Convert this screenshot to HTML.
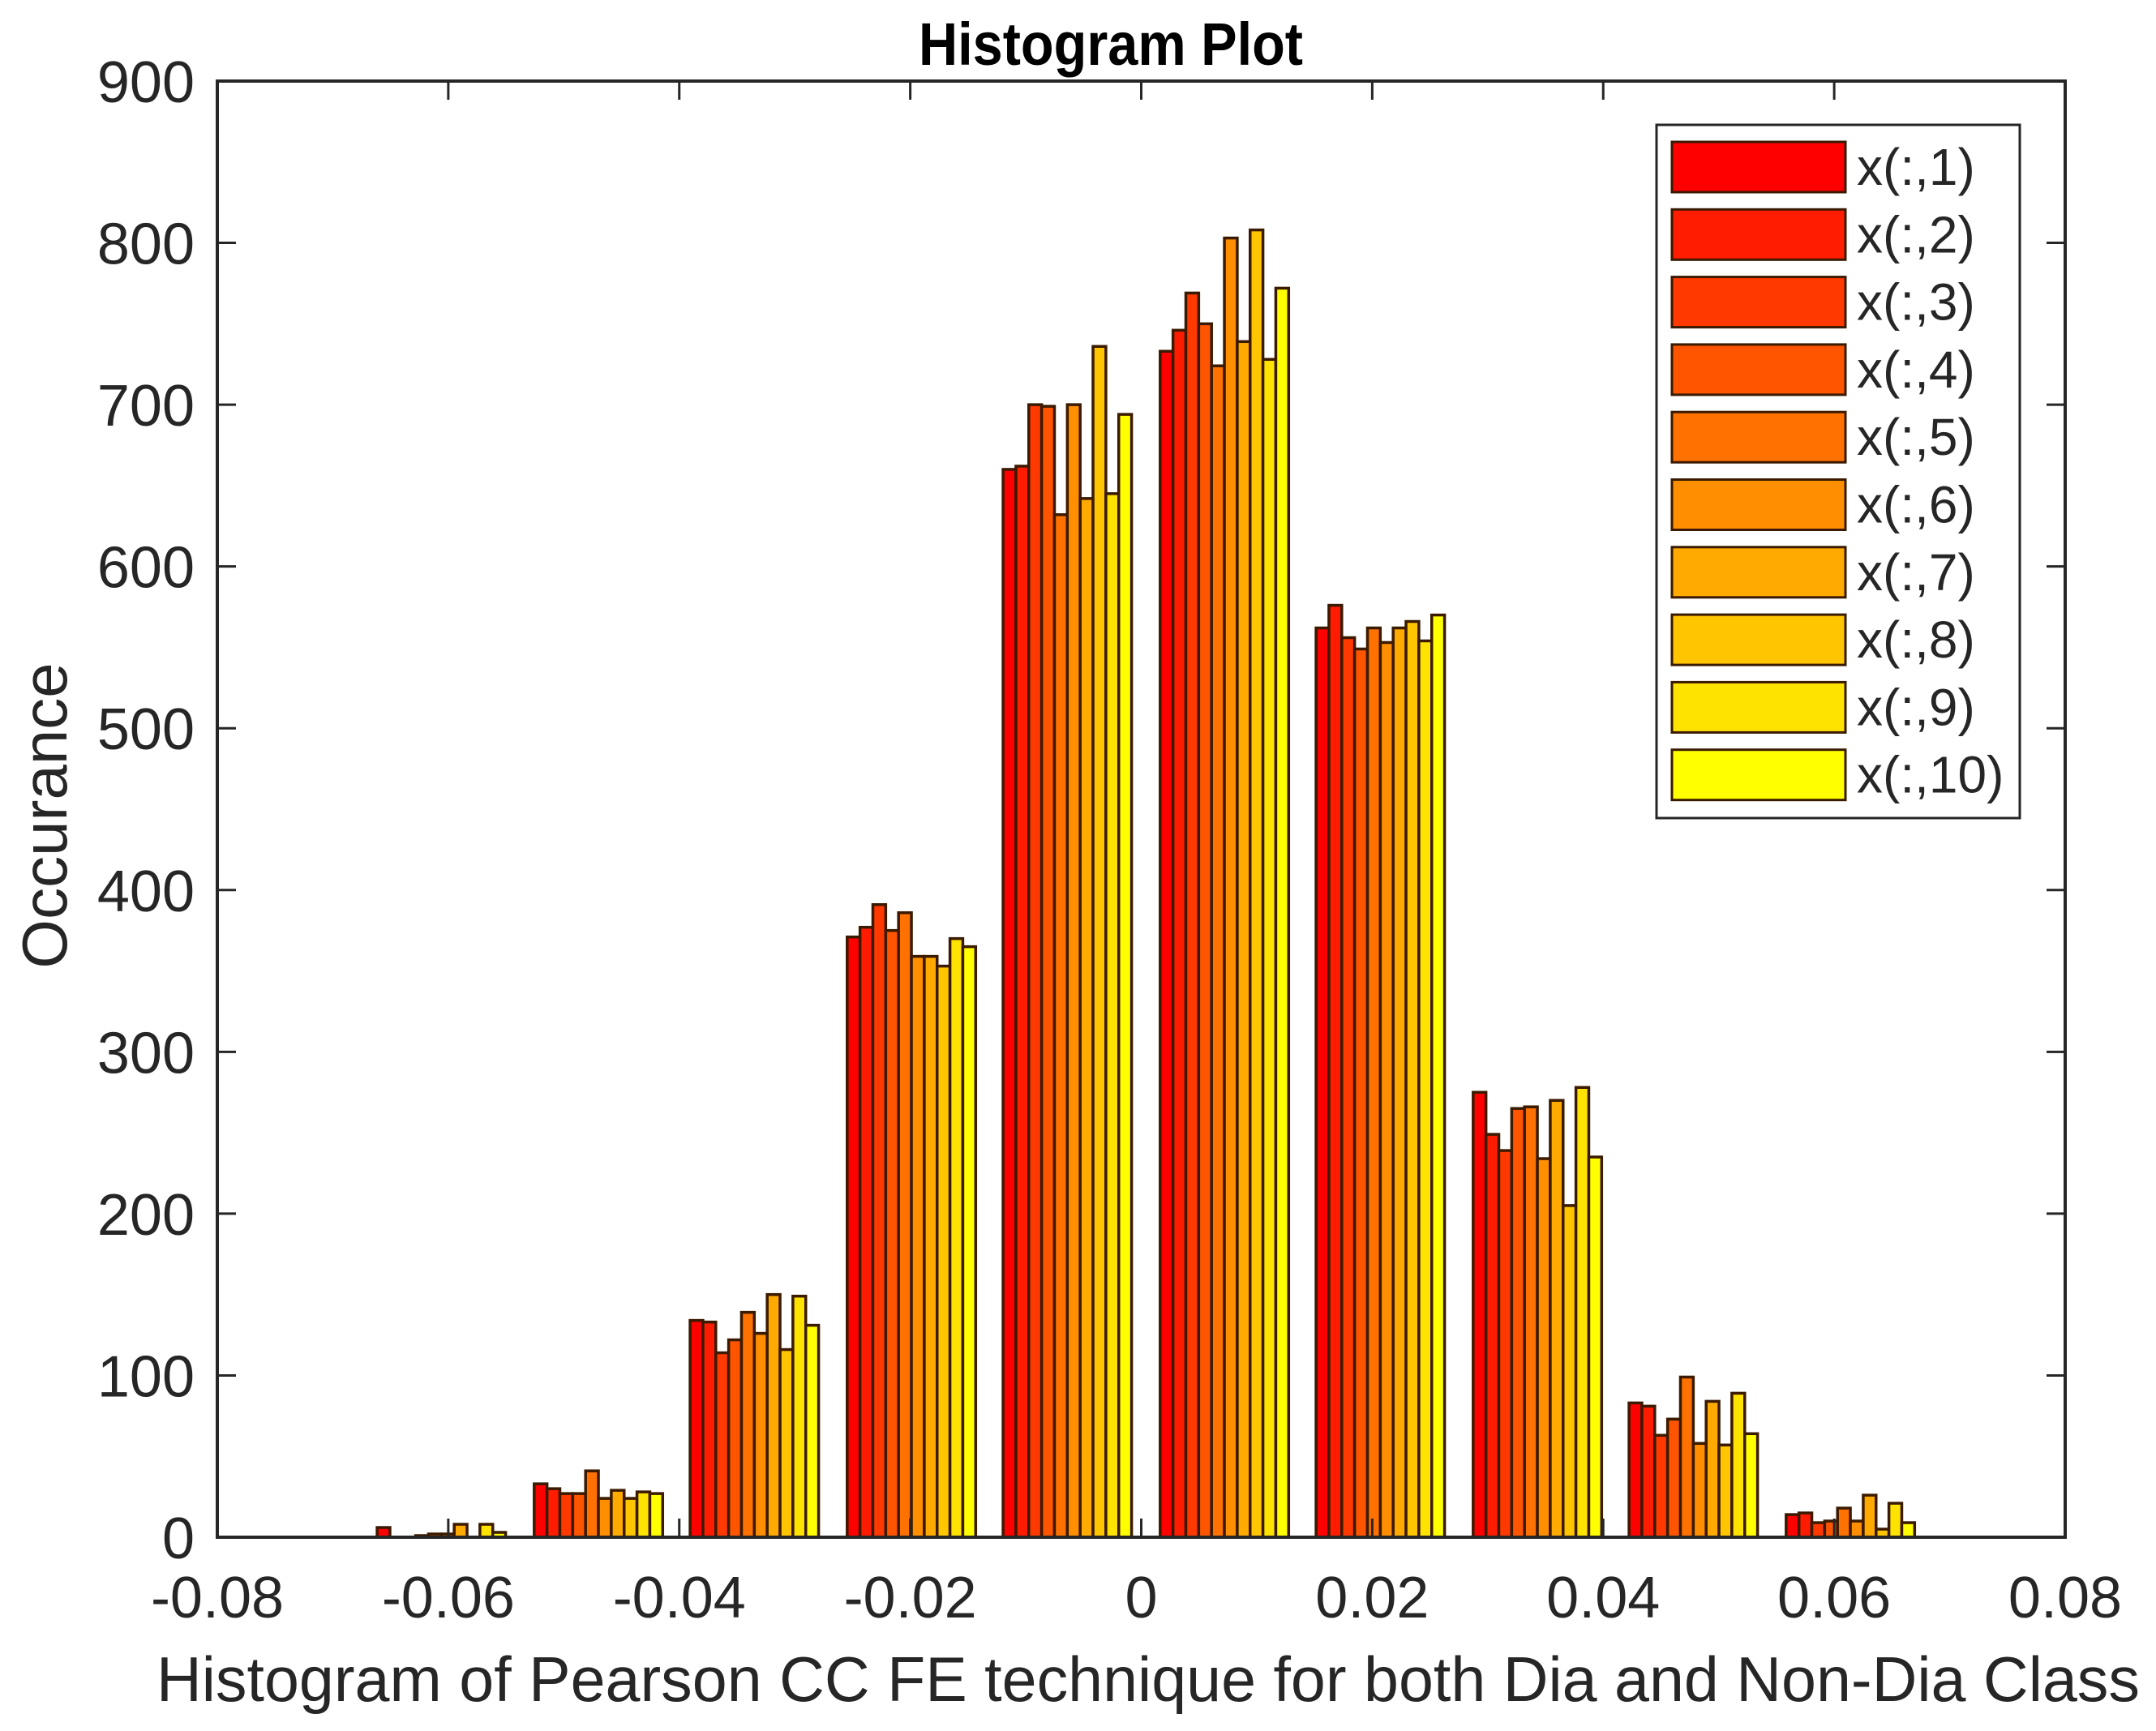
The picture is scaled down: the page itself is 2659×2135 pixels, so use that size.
<!DOCTYPE html>
<html><head><meta charset="utf-8"><style>
html,body{margin:0;padding:0;background:#fff;}
svg{display:block;font-family:"Liberation Sans",Arial,sans-serif;}
</style></head><body>
<svg id="chart" width="2659" height="2135" viewBox="0 0 2659 2135" xmlns="http://www.w3.org/2000/svg">
<rect width="2659" height="2135" fill="#fff"/>
<text x="1370" y="80" text-anchor="middle" font-size="74" font-weight="bold" textLength="474" lengthAdjust="spacingAndGlyphs">Histogram Plot</text>
<g id="bars"></g>
<g id="axes"></g>
<text x="1416" y="2098" text-anchor="middle" font-size="78" fill="#262626" textLength="2446" lengthAdjust="spacingAndGlyphs">Histogram of Pearson CC FE technique for both Dia and Non-Dia Class</text>
<text x="0" y="0" transform="translate(82,1006) rotate(-90)" text-anchor="middle" font-size="78" fill="#262626">Occurance</text>
<g id="legend"></g>
</svg>
<script>
const binCenters = [-0.0606,-0.0470,-0.0335,-0.0199,-0.0064,0.0072,0.0207,0.0343,0.0478,0.0614];
const seriesNames = ["x(:,1)","x(:,2)","x(:,3)","x(:,4)","x(:,5)","x(:,6)","x(:,7)","x(:,8)","x(:,9)","x(:,10)"];
// counts[bin][series]
const counts = [
 [6,0,0,1,2,2,8,0,8,3],
 [33,30,27,27,41,24,29,24,28,27],
 [134,133,114,122,139,126,150,116,149,131],
 [371,377,391,375,386,359,359,353,370,365],
 [660,662,700,699,632,700,642,736,645,694],
 [733,746,769,750,724,803,739,808,728,772],
 [562,576,556,549,562,553,562,566,554,570],
 [275,249,239,265,266,234,270,205,278,235],
 [83,81,63,73,99,58,84,57,89,64],
 [14,15,9,10,18,10,26,5,21,9]
];
const xTicks = [-0.08,-0.06,-0.04,-0.02,0,0.02,0.04,0.06,0.08];
const xTickLabels = ["-0.08","-0.06","-0.04","-0.02","0","0.02","0.04","0.06","0.08"];
const yTicks = [0,100,200,300,400,500,600,700,800,900];

const NS="http://www.w3.org/2000/svg";
const L=268,R=2547,T=100,B=1896;
const xMin=-0.08,xMax=0.08,yMax=900;
const xs=v=>L+(v-xMin)/(xMax-xMin)*(R-L);
const ys=v=>B-v/yMax*(B-T);
function col(i){const g=Math.round(255*i/9);return `rgb(255,${g},0)`;}
function mk(tag,parent,attrs){const e=document.createElementNS(NS,tag);for(const k in attrs)e.setAttribute(k,attrs[k]);parent.appendChild(e);return e;}

const barsG=document.getElementById('bars');
const binW=0.01357, groupFrac=0.82;
binCenters.forEach((c,bi)=>{
  const gw=(xs(c+binW*groupFrac/2)-xs(c-binW*groupFrac/2));
  const bw=gw/10;
  const x0=xs(c)-gw/2;
  counts[bi].forEach((v,si)=>{
    const r=mk('rect',barsG,{x:x0+si*bw,y:ys(v),width:bw,height:ys(0)-ys(v),fill:col(si),stroke:'#3a1a00','stroke-width':3.5});
    
    
  });
});

const ax=document.getElementById('axes');
const frame=mk('rect',ax,{x:L,y:T,width:R-L,height:B-T,fill:'none',stroke:'#262626','stroke-width':4});


xTicks.forEach((t,i)=>{
  const x=xs(t);
  mk('line',ax,{x1:x,y1:B,x2:x,y2:B-23,stroke:'#262626','stroke-width':3});
  mk('line',ax,{x1:x,y1:T,x2:x,y2:T+23,stroke:'#262626','stroke-width':3});
  const tx=mk('text',ax,{x:x,y:1995,'text-anchor':'middle','font-size':72,fill:'#262626'});
  tx.textContent=xTickLabels[i];
  
  
});
yTicks.forEach(t=>{
  const y=ys(t);
  mk('line',ax,{x1:L,y1:y,x2:L+23,y2:y,stroke:'#262626','stroke-width':3});
  mk('line',ax,{x1:R,y1:y,x2:R-23,y2:y,stroke:'#262626','stroke-width':3});
  const tx=mk('text',ax,{x:240,y:y+26,'text-anchor':'end','font-size':72,fill:'#262626'});
  tx.textContent=String(t);
  
  
});

const lg=document.getElementById('legend');
const box=mk('rect',lg,{x:2043,y:154,width:448,height:855,fill:'#fff',stroke:'#262626','stroke-width':3});


seriesNames.forEach((n,i)=>{
  const y=175+i*83.3;
  const sw=mk('rect',lg,{x:2062,y:y,width:214,height:62,fill:col(i),stroke:'#3a1a00','stroke-width':3});
  
  
  const tx=mk('text',lg,{x:2290,y:y+53,'font-size':64,fill:'#262626'});
  tx.textContent=n;
  
  
});
</script>
</body></html>
